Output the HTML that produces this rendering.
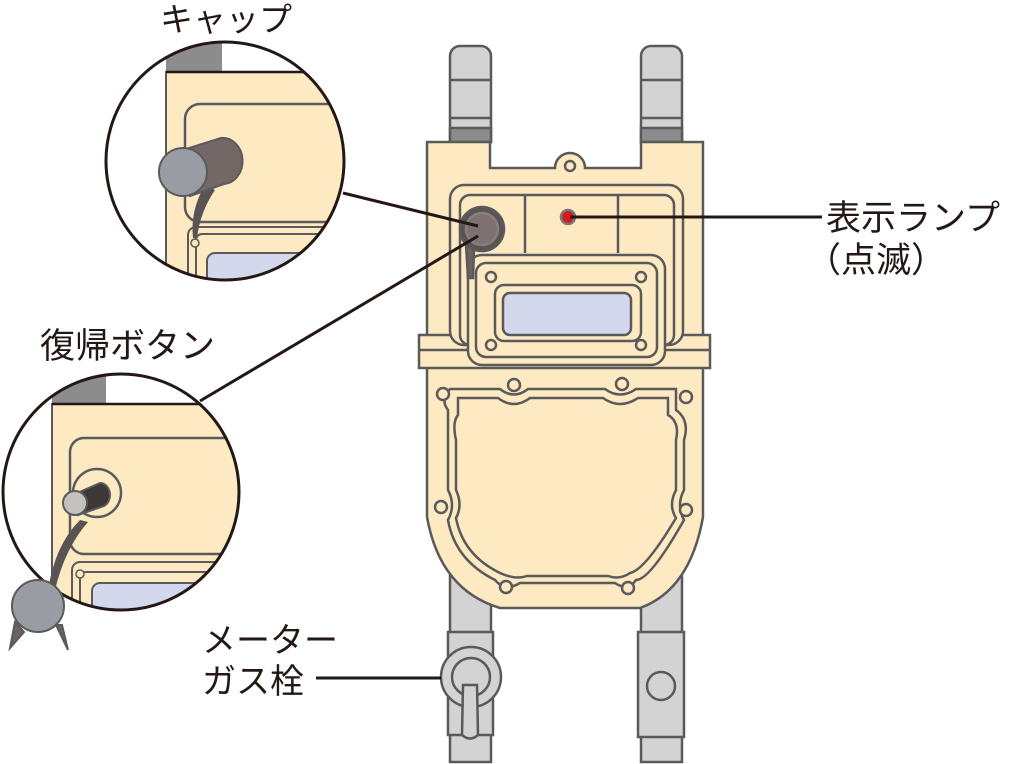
<!DOCTYPE html>
<html><head><meta charset="utf-8"><style>
html,body{margin:0;padding:0;background:#fff;}
svg{display:block;}
text{font-family:"Liberation Sans","Noto Sans CJK JP",sans-serif;fill:#231815;}
</style></head><body>
<svg width="1009" height="764" viewBox="0 0 1009 764" xmlns="http://www.w3.org/2000/svg">
<defs>
<clipPath id="c1"><circle cx="225" cy="161" r="119"/></clipPath>
<clipPath id="c2"><circle cx="121" cy="492" r="118"/></clipPath>
</defs>
<g stroke="#5a5a5a" stroke-width="2.5">
<path d="M450 142V56a10 10 0 0 1 10-10h21a10 10 0 0 1 10 10v86z" fill="#d3d3d3"/>
<path d="M641 142V56a10 10 0 0 1 10-10h21a10 10 0 0 1 10 10v86z" fill="#d3d3d3"/>
<line x1="450" y1="80" x2="491" y2="80"/><line x1="641" y1="80" x2="682" y2="80"/>
<line x1="450" y1="118" x2="491" y2="118"/><line x1="641" y1="118" x2="682" y2="118"/>
<rect x="450" y="128" width="41" height="14" fill="#8c8c8c"/>
<rect x="641" y="128" width="41" height="14" fill="#8c8c8c"/>
<rect x="450" y="540" width="41" height="222" fill="#d3d3d3"/>
<rect x="641" y="540" width="41" height="222" fill="#d3d3d3"/>
<rect x="448" y="632" width="45" height="103" fill="#d3d3d3"/>
<rect x="638" y="632" width="46" height="105" fill="#d3d3d3"/>
<circle cx="661" cy="686" r="14" fill="#d3d3d3"/>
<path d="M427 366V517Q440 590 500 608H640Q690 590 703 517V366z" fill="#fde9c2"/>
<path d="M427 142H490V168H555A15 15 0 0 1 585 168H641V142H703V366H427z" fill="#fde9c2"/>
<circle cx="570" cy="166" r="5" fill="#fde9c2"/>
<rect x="419" y="335" width="291" height="33" fill="#fde9c2"/>
<line x1="419" y1="350" x2="710" y2="350"/>
<rect x="450" y="185" width="233" height="160" rx="14" fill="#fde9c2"/>
<rect x="460" y="195" width="214" height="150" rx="10" fill="#fde9c2"/>
<line x1="525" y1="195" x2="525" y2="253"/><line x1="618" y1="195" x2="618" y2="253"/>
<rect x="468" y="255" width="197" height="110" rx="14" fill="#fde9c2"/>
<rect x="476" y="263" width="181" height="94" rx="10" fill="#fde9c2"/>
<rect x="495" y="285" width="146" height="56" rx="9" fill="#fde9c2"/>
<rect x="503" y="293" width="128" height="42" rx="7" fill="#d4d8ec"/>
<circle cx="491" cy="277" r="5" fill="#fde9c2"/><circle cx="641" cy="277" r="5" fill="#fde9c2"/>
<circle cx="491" cy="345" r="5" fill="#fde9c2"/><circle cx="641" cy="345" r="5" fill="#fde9c2"/>
<circle cx="568" cy="217" r="7" fill="#d7191c" stroke="#777"/>
<path d="M466 245L468 278L473 278L474 250z" fill="#6b6161"/>
<circle cx="482" cy="229" r="22" fill="#5a5353"/>
<circle cx="482" cy="229" r="16" fill="#7d7171" stroke="#8a7d7d"/>
<path d="M450 389H500Q514 400 528 389H605Q620 400 636 389H676V410Q690 420 684 440V490Q676 505 684 520Q650 580 636 580Q628 592 615 583H520Q505 592 495 580Q455 560 448 520Q456 505 448 490V410Q440 400 450 389z" fill="#fde9c2"/>
<path d="M458 398H498Q514 410 530 398H603Q620 410 638 398H668V415Q680 422 676 440V490Q668 505 676 518Q645 570 630 573Q620 580 608 576H527Q515 580 500 573Q463 555 456 518Q463 505 456 490V440Q452 422 458 415z" fill="#fde9c2"/>
<g fill="#fde9c2">
<circle cx="443" cy="394" r="6"/><circle cx="514" cy="385" r="6"/><circle cx="622" cy="384" r="6"/><circle cx="686" cy="397" r="6"/>
<circle cx="441" cy="507" r="6"/><circle cx="686" cy="510" r="6"/><circle cx="506" cy="587" r="6"/><circle cx="628" cy="588" r="6"/>
</g>
<circle cx="471" cy="677" r="30" fill="#d3d3d3"/>
<circle cx="471" cy="677" r="19" fill="#d3d3d3"/>
<path d="M463 685H477L478 735Q470 742 462 735z" fill="#d3d3d3"/>
</g>
<g stroke="#231815" stroke-width="3" fill="none">
<line x1="343" y1="193" x2="478" y2="226"/>
<line x1="200" y1="401" x2="478" y2="236"/>
<line x1="570" y1="217" x2="822" y2="217"/>
<line x1="316" y1="678" x2="441" y2="678"/>
</g>
<g clip-path="url(#c1)">
<rect x="100" y="40" width="260" height="250" fill="#fff"/>
<rect x="166" y="43" width="56" height="29" fill="#8c8c8c"/>
<rect x="166" y="72" width="200" height="220" fill="#fde9c2" stroke="#5a5a5a" stroke-width="2"/>
<line x1="166" y1="72" x2="366" y2="72" stroke="#231815" stroke-width="2.5"/>
<rect x="185" y="104" width="200" height="118" rx="15" fill="#fde9c2" stroke="#5a5a5a" stroke-width="2.5"/>
<path d="M188 235a8 8 0 0 1 8-8h170v70H188z" fill="#fde9c2" stroke="#5a5a5a" stroke-width="2"/>
<path d="M196 240a6 6 0 0 1 6-6h160v60H196z" fill="#fde9c2" stroke="#5a5a5a" stroke-width="2"/>
<rect x="207" y="253" width="150" height="50" rx="8" fill="#d4d8ec" stroke="#5a5a5a" stroke-width="2"/>
<circle cx="195" cy="243" r="4" fill="#fde9c2" stroke="#5a5a5a" stroke-width="1.5"/>
<path d="M205 185Q190 210 193 238L197 238Q200 212 215 190z" fill="#5a5353"/>
<path d="M183 150L221 138A20 23 0 0 1 224 184L190 196z" fill="#736866" stroke="#5a5a5a" stroke-width="2"/>
<ellipse cx="183" cy="172" rx="24" ry="24" fill="#9a9ca4" stroke="#5a5a5a" stroke-width="2"/>
</g>
<circle cx="225" cy="161" r="119" fill="none" stroke="#231815" stroke-width="3"/>
<g clip-path="url(#c2)">
<rect x="0" y="370" width="245" height="245" fill="#fff"/>
<rect x="52" y="373" width="54" height="31" fill="#8c8c8c"/>
<rect x="52" y="404" width="200" height="220" fill="#fde9c2" stroke="#5a5a5a" stroke-width="2"/>
<line x1="52" y1="404" x2="250" y2="404" stroke="#231815" stroke-width="2.5"/>
<rect x="70" y="438" width="200" height="116" rx="14" fill="#fde9c2" stroke="#5a5a5a" stroke-width="2.5"/>
<path d="M72 570a8 8 0 0 1 8-8h170v70H72z" fill="#fde9c2" stroke="#5a5a5a" stroke-width="2"/>
<path d="M80 578a6 6 0 0 1 6-6h160v60H80z" fill="#fde9c2" stroke="#5a5a5a" stroke-width="2"/>
<rect x="92" y="583" width="150" height="50" rx="8" fill="#d4d8ec" stroke="#5a5a5a" stroke-width="2"/>
<circle cx="80" cy="574" r="4" fill="#fde9c2" stroke="#5a5a5a" stroke-width="1.5"/>
<circle cx="97" cy="493" r="24" fill="#fde9c2" stroke="#5a5a5a" stroke-width="2.5"/>
<path d="M75 494L100 483A10 12 0 0 1 104 506L78 515z" fill="#3d3736" stroke="#5a5a5a" stroke-width="2"/>
<path d="M80 520Q55 545 48 590L55 590Q65 548 88 522z" fill="#5a5353"/>
<circle cx="75" cy="503" r="12" fill="#c4c2c0" stroke="#5a5a5a" stroke-width="2"/>
</g>
<circle cx="121" cy="492" r="118" fill="none" stroke="#231815" stroke-width="3"/>
<path d="M15 622L10 648L24 632zM56 625L68 650L62 625z" fill="#6b6161" stroke="#5a5a5a" stroke-width="2"/>
<circle cx="38" cy="606" r="26" fill="#9a9ca4" stroke="#5a5a5a" stroke-width="2"/>
<text x="160" y="31" font-size="33">キャップ</text>
<text x="826" y="230" font-size="35">表示ランプ</text>
<text x="806" y="272" font-size="35">（点滅）</text>
<text x="40" y="358" font-size="35">復帰ボタン</text>
<text x="202" y="652" font-size="34">メーター</text>
<text x="202" y="693" font-size="34">ガス栓</text>
</svg>
</body></html>
